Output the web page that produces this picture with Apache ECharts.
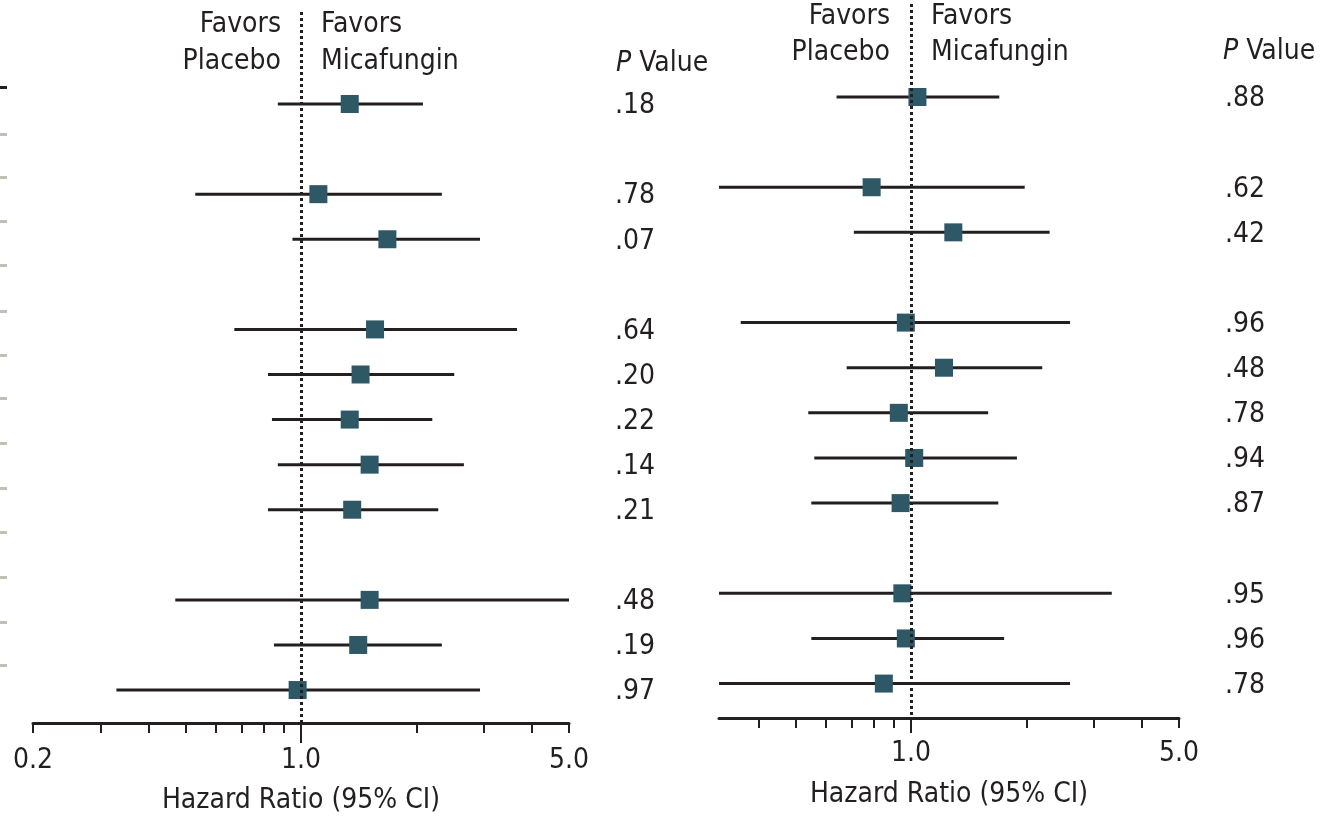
<!DOCTYPE html>
<html>
<head>
<meta charset="utf-8">
<script src="https://cdn.jsdelivr.net/npm/echarts@6/dist/echarts.min.js"></script>
<style>
  html, body { margin: 0; padding: 0; background: #ffffff; }
  #chart { width: 1320px; height: 816px; }
</style>
</head>
<body>
<div id="chart"></div>
<script>
// ---------- data ----------
const rowsLeft = [0, 2, 3, 5, 6, 7, 8, 9, 11, 12, 13];
const hrLeft = [1.34, 1.11, 1.68, 1.56, 1.43, 1.34, 1.51, 1.36, 1.51, 1.41, 0.98];
const loLeft = [0.87, 0.53, 0.95, 0.67, 0.82, 0.84, 0.87, 0.82, 0.47, 0.85, 0.33];
const hiLeft = [2.08, 2.33, 2.93, 3.66, 2.51, 2.20, 2.66, 2.28, 5.00, 2.33, 2.93];
const pLeft = ['.18', '.78', '.07', '.64', '.20', '.22', '.14', '.21', '.48', '.19', '.97'];

const rowsRight = [0, 2, 3, 5, 6, 7, 8, 9, 11, 12, 13];
const hrRight = [1.04, 0.79, 1.29, 0.97, 1.22, 0.93, 1.02, 0.94, 0.95, 0.97, 0.85];
const loRight = [0.64, 0.30, 0.71, 0.36, 0.68, 0.54, 0.56, 0.55, 0.30, 0.55, 0.30];
const hiRight = [1.70, 1.98, 2.30, 2.60, 2.20, 1.59, 1.89, 1.69, 3.34, 1.75, 2.60];
const pRight = ['.88', '.62', '.42', '.96', '.48', '.78', '.94', '.87', '.95', '.96', '.78'];

const leftAxisRange = [0.2, 5.0];
const rightAxisRange = [0.316, 5.0];
const tickValuesLeft = [0.2, 0.3, 0.4, 0.5, 0.6, 0.7, 0.8, 0.9, 1, 2, 3, 4, 5];
const tickValuesRight = [0.4, 0.5, 0.6, 0.7, 0.8, 0.9, 1, 2, 3, 4, 5];
const tickLabelsLeft = [0.2, 1, 5];
const tickLabelsRight = [1, 5];
const referenceHR = 1;
// row rules of the (cropped) table on the far left, in row units
const tableRuleRows = [-0.38, 0.66, 1.62, 2.6, 3.57, 4.59, 5.57, 6.52, 7.52, 8.52, 9.49, 10.49, 11.49, 12.44];

const xTitle = 'Hazard Ratio (95% CI)';
const favorsLeftText = ['Favors', 'Placebo'];
const favorsRightText = ['Favors', 'Micafungin'];

// ---------- styles ----------
const FONT = '"DejaVu Sans Condensed", "Liberation Sans Narrow", "DejaVu Sans", sans-serif';
const INK = '#231f20';
const BOX = '#2e5866';
const FS = 28;

const L = Math.log10;
function buildData(rows, hr, lo, hi) {
  return rows.map((r, i) => [L(lo[i]), L(hi[i]), L(hr[i]), r]);
}

function renderer(pArr) {
  return function (params, api) {
    const lo = api.value(0), hi = api.value(1), hr = api.value(2), row = api.value(3);
    const cs = params.coordSys;
    const pLo = api.coord([lo, row]);
    const pHi = api.coord([hi, row]);
    const pc = api.coord([hr, row]);
    const x1 = Math.max(pLo[0], cs.x);
    const x2 = Math.min(pHi[0], cs.x + cs.width);
    const s = 18;
    return {
      type: 'group',
      children: [
        { type: 'line', shape: { x1: x1, y1: pc[1], x2: x2, y2: pc[1] },
          style: { stroke: INK, lineWidth: 3 }, z2: 1 },
        { type: 'rect', shape: { x: pc[0] - s / 2, y: pc[1] - s / 2, width: s, height: s },
          style: { fill: BOX }, z2: 2 },
        { type: 'text', z2: 3,
          style: { text: pArr[params.dataIndex], x: cs.x + cs.width + 46, y: pc[1] + 2,
                   fill: INK, fontSize: FS, fontFamily: FONT, align: 'left', verticalAlign: 'middle' } }
      ]
    };
  };
}

function mainX(grid, range, ticks, labels, margin, nameGap) {
  return {
    type: 'value', gridIndex: grid, position: 'bottom',
    min: L(range[0]), max: L(range[1]),
    splitLine: { show: false },
    axisLine: { show: true, onZero: false, lineStyle: { color: INK, width: 3 } },
    axisTick: { show: true, length: 10, lineStyle: { color: INK, width: 2 },
                customValues: ticks.map(L) },
    axisLabel: { show: true, margin: margin, color: INK, fontSize: FS, fontFamily: FONT,
                 customValues: labels.map(L),
                 formatter: v => Math.pow(10, v).toFixed(1) },
    name: xTitle, nameLocation: 'middle', nameGap: nameGap,
    nameTextStyle: { color: INK, fontSize: FS, fontFamily: FONT }
  };
}
function refTickX(grid, range, len) {
  return {
    type: 'value', gridIndex: grid, position: 'bottom',
    min: L(range[0]), max: L(range[1]),
    splitLine: { show: false },
    axisLine: { show: false, onZero: false },
    axisLabel: { show: false },
    axisTick: { show: true, length: len, lineStyle: { color: INK, width: 2 },
                customValues: [L(referenceHR)] }
  };
}
function rowY(grid, min, max, extra) {
  return Object.assign({
    type: 'value', gridIndex: grid, inverse: true, min: min, max: max,
    axisLine: { show: false, onZero: false }, axisLabel: { show: false }, axisTick: { show: false },
    splitLine: { show: false }
  }, extra || {});
}
function refLineSeries(xi, yi) {
  return {
    type: 'line', xAxisIndex: xi, yAxisIndex: yi, data: [], z: 1, silent: true,
    markLine: {
      silent: true, symbol: ['none', 'none'], label: { show: false },
      lineStyle: { color: INK, width: 3, type: [3, 3] },
      data: [{ xAxis: L(referenceHR) }]
    }
  };
}

const chart = echarts.init(document.getElementById('chart'), null, { renderer: 'canvas' });
const option = {
  animation: false,
  backgroundColor: '#ffffff',
  grid: [
    { left: 33, width: 536, top: 12, height: 711, outerBoundsMode: 'none', containLabel: false },
    { left: 719, width: 460, top: 4, height: 714, outerBoundsMode: 'none', containLabel: false }
  ],
  xAxis: [
    mainX(0, leftAxisRange, tickValuesLeft, tickLabelsLeft, 24, 64),
    refTickX(0, leftAxisRange, 20),
    mainX(1, rightAxisRange, tickValuesRight, tickLabelsRight, 22, 63),
    refTickX(1, rightAxisRange, 15)
  ],
  yAxis: [
    rowY(0, -2.041, 13.731),
    rowY(1, -2.061, 13.763),
    rowY(0, -2.041, 13.731, { position: 'left', offset: 26,
      axisLine: { show: false, onZero: false },
      axisTick: { show: true, length: 7, lineStyle: { color: '#c2bfb7', width: 3 },
                  customValues: tableRuleRows.slice(1) } }),
    rowY(0, -2.041, 13.731, { position: 'left', offset: 26,
      axisLine: { show: false, onZero: false },
      axisTick: { show: true, length: 7, lineStyle: { color: INK, width: 3 },
                  customValues: tableRuleRows.slice(0, 1) } })
  ],
  series: [
    refLineSeries(0, 0),
    refLineSeries(2, 1),
    { type: 'custom', xAxisIndex: 0, yAxisIndex: 0, z: 3,
      data: buildData(rowsLeft, hrLeft, loLeft, hiLeft), renderItem: renderer(pLeft) },
    { type: 'custom', xAxisIndex: 2, yAxisIndex: 1, z: 3,
      data: buildData(rowsRight, hrRight, loRight, hiRight), renderItem: renderer(pRight) }
  ],
  graphic: [
    { type: 'text', x: 281, y: 24.5, style: { text: favorsLeftText[0], fill: INK, fontSize: FS, fontFamily: FONT, align: 'right', verticalAlign: 'middle' } },
    { type: 'text', x: 281, y: 62, style: { text: favorsLeftText[1], fill: INK, fontSize: FS, fontFamily: FONT, align: 'right', verticalAlign: 'middle' } },
    { type: 'text', x: 321, y: 24.5, style: { text: favorsRightText[0], fill: INK, fontSize: FS, fontFamily: FONT, align: 'left', verticalAlign: 'middle' } },
    { type: 'text', x: 321, y: 62, style: { text: favorsRightText[1], fill: INK, fontSize: FS, fontFamily: FONT, align: 'left', verticalAlign: 'middle' } },
    { type: 'text', x: 616, y: 64, style: { text: '{i|P} Value', fill: INK, fontSize: FS, fontFamily: FONT, align: 'left', verticalAlign: 'middle',
      rich: { i: { fontStyle: 'italic', fontSize: FS, fontFamily: FONT, fill: INK } } } },

    { type: 'text', x: 890, y: 17, style: { text: favorsLeftText[0], fill: INK, fontSize: FS, fontFamily: FONT, align: 'right', verticalAlign: 'middle' } },
    { type: 'text', x: 890, y: 52.5, style: { text: favorsLeftText[1], fill: INK, fontSize: FS, fontFamily: FONT, align: 'right', verticalAlign: 'middle' } },
    { type: 'text', x: 931, y: 17, style: { text: favorsRightText[0], fill: INK, fontSize: FS, fontFamily: FONT, align: 'left', verticalAlign: 'middle' } },
    { type: 'text', x: 931, y: 52.5, style: { text: favorsRightText[1], fill: INK, fontSize: FS, fontFamily: FONT, align: 'left', verticalAlign: 'middle' } },
    { type: 'text', x: 1223, y: 52, style: { text: '{i|P} Value', fill: INK, fontSize: FS, fontFamily: FONT, align: 'left', verticalAlign: 'middle',
      rich: { i: { fontStyle: 'italic', fontSize: FS, fontFamily: FONT, fill: INK } } } }
  ]
};
chart.setOption(option);
</script>
</body>
</html>
